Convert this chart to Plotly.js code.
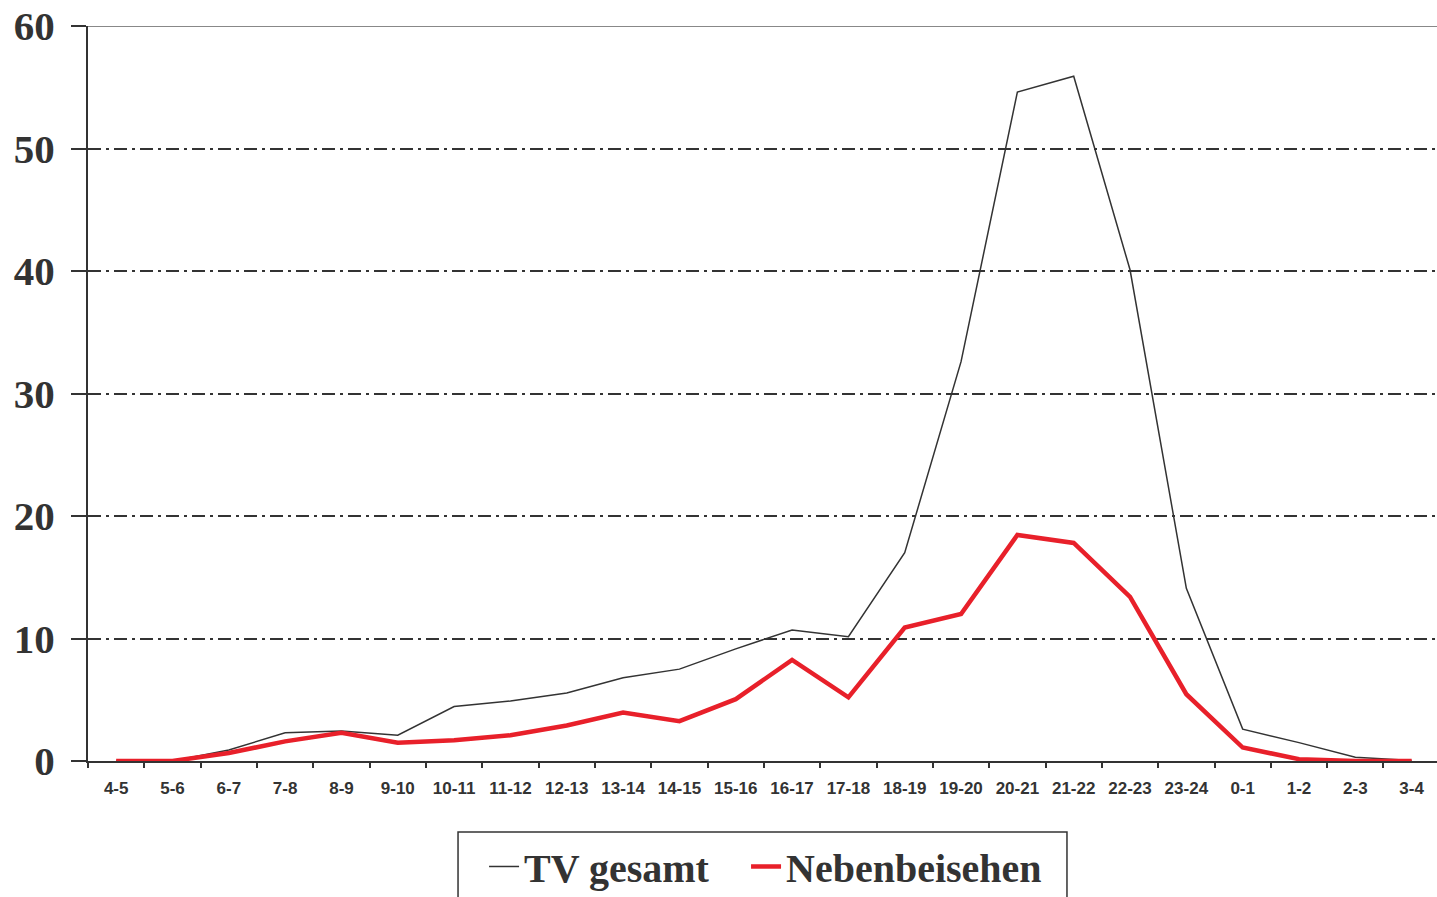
<!DOCTYPE html>
<html><head><meta charset="utf-8">
<script src="https://cdn.plot.ly/plotly-3.0.1.min.js"></script>
<style>html,body{margin:0;padding:0;overflow:hidden;background:#fff}</style>
</head><body><div id="chart" style="width:1437px;height:897px"></div>
<script>
const categories = ["4-5","5-6","6-7","7-8","8-9","9-10","10-11","11-12","12-13","13-14","14-15","15-16","16-17","17-18","18-19","19-20","20-21","21-22","22-23","23-24","0-1","1-2","2-3","3-4"];
const tvGesamt = [0,0,0.9,2.3,2.45,2.1,4.45,4.9,5.55,6.8,7.5,9.15,10.7,10.15,17.0,32.6,54.6,55.9,40.1,14.1,2.6,1.5,0.3,0.05];
const nebenbeisehen = [0,0,0.65,1.6,2.3,1.5,1.7,2.1,2.9,3.95,3.25,5.05,8.25,5.2,10.9,12.0,18.45,17.8,13.4,5.45,1.1,0.15,0,0];
const yTicks = [0,10,20,30,40,50,60];
const seriesNames = ["TV gesamt","Nebenbeisehen"];

const traces = [
  {x: categories, y: tvGesamt, name: seriesNames[0], type: "scatter", mode: "lines",
   line: {color: "#333333", width: 1.5}, legend: "legend"},
  {x: categories, y: nebenbeisehen, name: seriesNames[1], type: "scatter", mode: "lines",
   line: {color: "#e8202a", width: 4.5}, legend: "legend2"}
];

const legendFont = {family: "Liberation Serif, Times New Roman, serif", size: 40, color: "#333", weight: "bold"};

const layout = {
  width: 1437, height: 897,
  margin: {l: 88, r: 0, t: 26, b: 136, autoexpand: false},
  paper_bgcolor: "#fff", plot_bgcolor: "#fff",
  showlegend: true,
  xaxis: {
    type: "category",
    range: [-0.5, 23.45],
    tickson: "boundaries",
    ticks: "outside", ticklen: 5, tickwidth: 2, tickcolor: "#333",
    showline: true, linecolor: "#333", linewidth: 2,
    showgrid: false, zeroline: false,
    tickfont: {family: "Liberation Sans, Arial, sans-serif", size: 17, color: "#333", weight: "bold"},
    ticklabelstandoff: 11,
    fixedrange: true
  },
  yaxis: {
    range: [0, 60],
    tickvals: yTicks,
    ticktext: yTicks.map(String),
    ticks: "outside", ticklen: 15, tickwidth: 2, tickcolor: "#333",
    showline: true, linecolor: "#333", linewidth: 2,
    showgrid: true, gridcolor: "#333", gridwidth: 2,
    griddash: "13px,5px,3px,5px",
    zeroline: false,
    tickfont: {family: "Liberation Serif, Times New Roman, serif", size: 41, color: "#333", weight: "bold"},
    ticklabelstandoff: 8,
    fixedrange: true
  },
  shapes: [
    {type: "line", xref: "paper", yref: "y", x0: 0, x1: 1, y0: 60, y1: 60,
     line: {color: "#888", width: 2}, layer: "below"},
    {type: "rect", xref: "paper", yref: "paper", x0: 0.2743, x1: 0.7257, y0: -0.0966, y1: -0.3,
     line: {color: "#333", width: 1.5}, fillcolor: "rgba(0,0,0,0)"}
  ],
  legend: {
    orientation: "h",
    x: 0.2936, xanchor: "left",
    y: -0.0993, yanchor: "top",
    borderwidth: 0, bgcolor: "rgba(0,0,0,0)",
    font: legendFont
  },
  legend2: {
    orientation: "h",
    x: 0.4878, xanchor: "left",
    y: -0.0993, yanchor: "top",
    borderwidth: 0, bgcolor: "rgba(0,0,0,0)",
    font: legendFont
  }
};

Plotly.newPlot("chart", traces, layout, {displayModeBar: false, staticPlot: true});
</script>
</body></html>
